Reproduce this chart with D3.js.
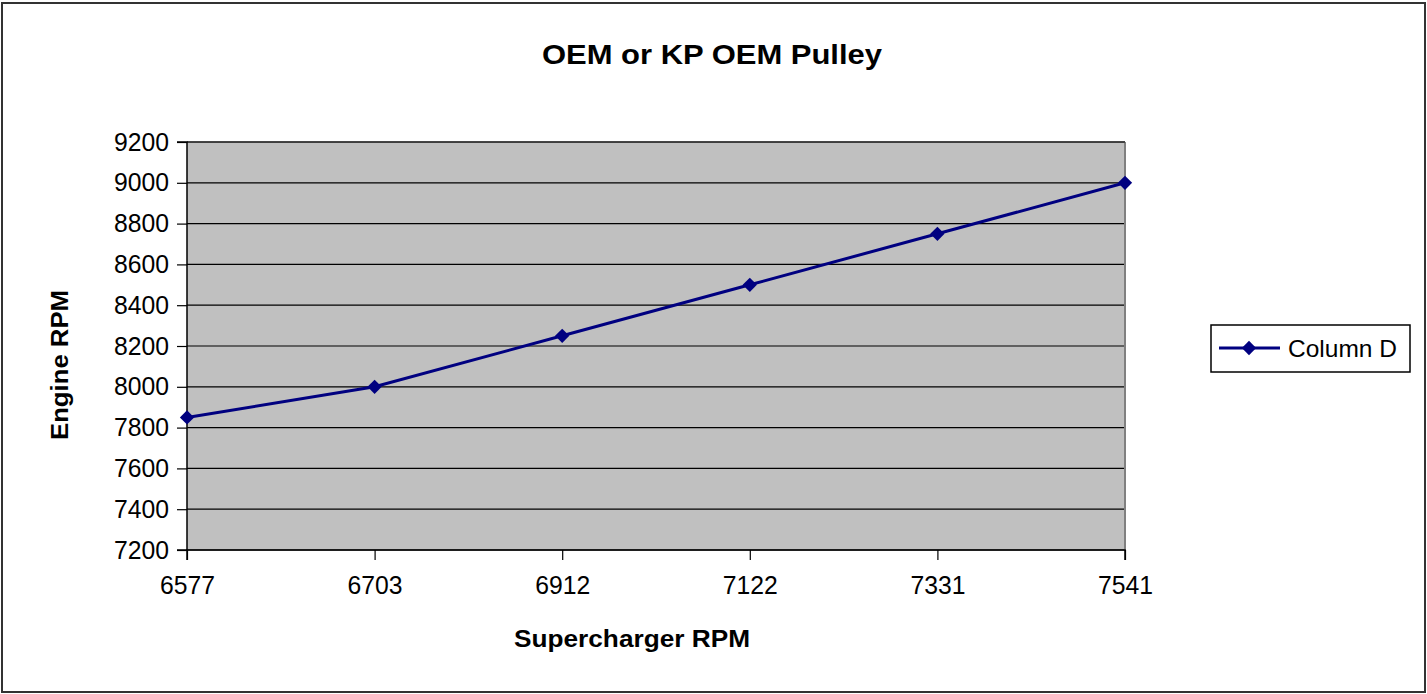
<!DOCTYPE html>
<html><head><meta charset="utf-8">
<script src="https://cdn.jsdelivr.net/npm/d3@7"></script>
<style>body{margin:0;background:#fff}svg{display:block}text{font-family:"Liberation Sans",Arial,sans-serif}</style>
</head><body>
<svg id="c" width="1427" height="694"></svg>
<script>
const categories = ["6577","6703","6912","7122","7331","7541"];
const engineRPM = [7850, 8000, 8250, 8500, 8750, 9000];
const yTicks = [7200,7400,7600,7800,8000,8200,8400,8600,8800,9000,9200];
const seriesName = "Column D";
const title = "OEM or KP OEM Pulley";
const xTitle = "Supercharger RPM";
const yTitle = "Engine RPM";

const svg = d3.select("#c");
const L = 187, R = 1125, T = 142, B = 550;
svg.append("rect").attr("x",2).attr("y",3).attr("width",1423).attr("height",689)
  .attr("fill","#fff").attr("stroke","#333").attr("stroke-width",2);

const x = d3.scalePoint().domain(categories).range([L,R]);
const y = d3.scaleLinear().domain([7200,9200]).range([B,T]);

svg.append("rect").attr("x",L).attr("y",T).attr("width",R-L).attr("height",B-T).attr("fill","#c0c0c0");
const g = svg.append("g");
yTicks.forEach(v=>{
  g.append("line").attr("x1",L).attr("x2",R).attr("y1",y(v)).attr("y2",y(v)).attr("stroke","#000").attr("stroke-width",1.2);
});
svg.append("line").attr("x1",R).attr("x2",R).attr("y1",T).attr("y2",B).attr("stroke","#808080").attr("stroke-width",2);
svg.append("line").attr("x1",L).attr("x2",R).attr("y1",T).attr("y2",T).attr("stroke","#333").attr("stroke-width",1.5);

const ya = svg.append("g").attr("transform",`translate(${L},0)`)
  .call(d3.axisLeft(y).tickValues(yTicks).tickSize(10).tickPadding(8).tickFormat(d3.format("d")));
const xa = svg.append("g").attr("transform",`translate(0,${B})`)
  .call(d3.axisBottom(x).tickSize(10).tickPadding(16));
[ya,xa].forEach(a=>{
  a.select(".domain").attr("stroke","#000").attr("stroke-width",1.5);
  a.selectAll(".tick line").attr("stroke","#000").attr("stroke-width",1.2);
  a.selectAll("text").attr("font-size",25.5).attr("fill","#000").attr("font-family","Liberation Sans, Arial, sans-serif")
    .attr("textLength",55).attr("lengthAdjust","spacingAndGlyphs");
});
ya.select(".domain").attr("d",`M-10,${T}H0V${B}H-10`);
xa.select(".domain").attr("d",`M${L},10V0H${R}V10`);

const line = d3.line().x((d,i)=>x(categories[i])).y(d=>y(d));
svg.append("path").datum(engineRPM).attr("d",line).attr("fill","none").attr("stroke","#000080").attr("stroke-width",3);
const diamond = d3.symbol().type(d3.symbolDiamond2).size(130);
svg.selectAll(".pt").data(engineRPM).enter().append("path")
  .attr("transform",(d,i)=>`translate(${x(categories[i])},${y(d)})`)
  .attr("d",diamond).attr("fill","#000080");

svg.append("text").attr("x",712).attr("y",64).attr("text-anchor","middle")
  .attr("font-size",28).attr("font-weight","bold")
  .attr("textLength",340).attr("lengthAdjust","spacingAndGlyphs").text(title);
svg.append("text").attr("x",632).attr("y",647).attr("text-anchor","middle")
  .attr("font-size",23).attr("font-weight","bold")
  .attr("textLength",236).attr("lengthAdjust","spacingAndGlyphs").text(xTitle);
svg.append("text").attr("transform","translate(68,365) rotate(-90)").attr("text-anchor","middle")
  .attr("font-size",23.5).attr("font-weight","bold")
  .attr("textLength",150).attr("lengthAdjust","spacingAndGlyphs").text(yTitle);

const lg = svg.append("g");
lg.append("rect").attr("x",1211).attr("y",325).attr("width",199).attr("height",47)
  .attr("fill","#fff").attr("stroke","#000").attr("stroke-width",1.5);
lg.append("line").attr("x1",1219).attr("x2",1280).attr("y1",348).attr("y2",348).attr("stroke","#000080").attr("stroke-width",3);
lg.append("path").attr("transform","translate(1249,348)").attr("d",diamond).attr("fill","#000080");
lg.append("text").attr("x",1288).attr("y",357).attr("font-size",24.5).text(seriesName);
</script>
</body></html>
